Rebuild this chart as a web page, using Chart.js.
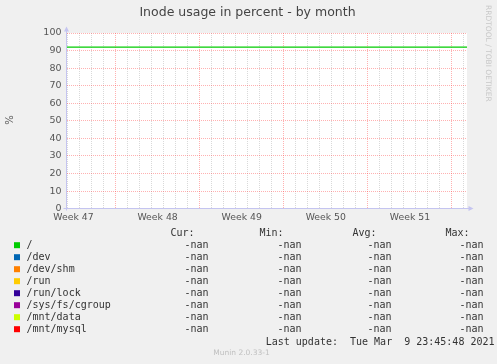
<!DOCTYPE html>
<html>
<head>
<meta charset="utf-8">
<script src="https://cdn.jsdelivr.net/npm/chart.js@4/dist/chart.umd.min.js"></script>
<style>
html, body { margin: 0; padding: 0; background: #f0f0f0; }
#wrap { width: 497px; height: 364px; }
</style>
</head>
<body>
<div id="wrap"><canvas id="inodeChart" width="497" height="364"></canvas></div>
<script>
const seriesNames = ['/', '/dev', '/dev/shm', '/run', '/run/lock', '/sys/fs/cgroup', '/mnt/data', '/mnt/mysql'];
const seriesColors = ['#00cc00', '#0066b3', '#ff8000', '#ffcc00', '#330099', '#990099', '#ccff00', '#ff0000'];

// x values are days counted from the start of week 48
const sampleDays = [-4.08, 0, 7, 14, 21, 28, 29.25];
const rootValues = [92, 92, 92, 92, 92, 92, 92];

const weekLabels = ['Week 47', 'Week 48', 'Week 49', 'Week 50', 'Week 51'];
const weekStarts = [-7, 0, 7, 14, 21];

const curValues = ['-nan', '-nan', '-nan', '-nan', '-nan', '-nan', '-nan', '-nan'];
const minValues = ['-nan', '-nan', '-nan', '-nan', '-nan', '-nan', '-nan', '-nan'];
const avgValues = ['-nan', '-nan', '-nan', '-nan', '-nan', '-nan', '-nan', '-nan'];
const maxValues = ['-nan', '-nan', '-nan', '-nan', '-nan', '-nan', '-nan', '-nan'];

const titleText = 'Inode usage in percent - by month';
const lastUpdate = 'Last update:  Tue Mar  9 23:45:48 2021';

const MAJOR = 'rgba(255, 60, 60, 0.4)';
const MINOR = 'rgba(170, 170, 170, 0.45)';
const mono = '10px "DejaVu Sans Mono"';

const datasets = seriesNames.map((name, i) => ({
    label: name,
    data: i === 0 ? sampleDays.map((d, j) => ({ x: d, y: rootValues[j] })) : [],
    borderColor: seriesColors[i],
    backgroundColor: seriesColors[i],
    borderWidth: 1.2,
    pointRadius: 0,
    tension: 0,
    fill: false
}));

const muninDecor = {
    id: 'muninDecor',
    beforeDraw(chart) {
        const { ctx, chartArea: a } = chart;
        ctx.save();
        ctx.fillStyle = '#f0f0f0';
        ctx.fillRect(0, 0, chart.width, chart.height);
        ctx.fillStyle = '#ffffff';
        ctx.fillRect(a.left, a.top, a.right - a.left, a.bottom - a.top);
        ctx.restore();
    },
    afterDraw(chart) {
        const { ctx, chartArea: a } = chart;
        ctx.save();

        // axes with arrows
        const ax = Math.round(a.left - 0.5) + 0.5;
        const ay = Math.round(a.bottom - 0.5) + 0.5;
        ctx.strokeStyle = '#c4c4f0';
        ctx.fillStyle = '#c4c4f0';
        ctx.lineWidth = 1;
        ctx.beginPath();
        ctx.moveTo(ax, ay + 2);
        ctx.lineTo(ax, a.top - 2);
        ctx.moveTo(ax - 3, ay);
        ctx.lineTo(a.right + 2, ay);
        ctx.stroke();
        ctx.beginPath();
        ctx.moveTo(ax - 2.5, a.top - 1.5);
        ctx.lineTo(ax + 2.5, a.top - 1.5);
        ctx.lineTo(ax, a.top - 6.5);
        ctx.closePath();
        ctx.fill();
        ctx.beginPath();
        ctx.moveTo(a.right + 1.5, ay - 2.5);
        ctx.lineTo(a.right + 1.5, ay + 2.5);
        ctx.lineTo(a.right + 6.5, ay);
        ctx.closePath();
        ctx.fill();

        // title
        ctx.fillStyle = '#444';
        ctx.font = '12.5px "DejaVu Sans"';
        ctx.textAlign = 'center';
        ctx.textBaseline = 'middle';
        ctx.fillText(titleText, 247.5, 13);

        // y axis unit
        ctx.save();
        ctx.translate(10, 120);
        ctx.rotate(-Math.PI / 2);
        ctx.font = '10px "DejaVu Sans"';
        ctx.fillStyle = '#555';
        ctx.fillText('%', 0, 0);
        ctx.restore();

        // rrdtool credit
        ctx.save();
        ctx.translate(488, 5);
        ctx.rotate(Math.PI / 2);
        ctx.font = '7.5px "DejaVu Sans"';
        ctx.fillStyle = '#c8c8c8';
        ctx.textAlign = 'left';
        ctx.fillText('RRDTOOL / TOBI OETIKER', 0, 0);
        ctx.restore();

        // legend table
        ctx.font = mono;
        ctx.fillStyle = '#333';
        ctx.textAlign = 'right';
        ctx.fillText('Cur:', 194.5, 233.5);
        ctx.fillText('Min:', 283.5, 233.5);
        ctx.fillText('Avg:', 376.5, 233.5);
        ctx.fillText('Max:', 469.5, 233.5);
        seriesNames.forEach((name, i) => {
            const y = 245.7 + i * 12;
            ctx.fillStyle = seriesColors[i];
            ctx.fillRect(14, y - 3.5, 6, 6);
            ctx.fillStyle = '#333';
            ctx.textAlign = 'left';
            ctx.fillText(name, 26.5, y);
            ctx.textAlign = 'right';
            ctx.fillText(curValues[i], 208.5, y);
            ctx.fillText(minValues[i], 301.5, y);
            ctx.fillText(avgValues[i], 391.5, y);
            ctx.fillText(maxValues[i], 483.5, y);
        });
        ctx.fillText(lastUpdate, 494.5, 342);

        ctx.font = '7.5px "DejaVu Sans"';
        ctx.fillStyle = '#c0c0c0';
        ctx.textAlign = 'center';
        ctx.fillText('Munin 2.0.33-1', 241.5, 353.3);
        ctx.restore();
    }
};

const ctx = document.getElementById('inodeChart').getContext('2d');
const inodeChart = new Chart(ctx, {
    type: 'line',
    data: { datasets: datasets },
    options: {
        responsive: false,
        animation: false,
        events: [],
        layout: { padding: { top: 33, right: 30, left: 0, bottom: 0 } },
        plugins: { legend: { display: false }, tooltip: { enabled: false } },
        scales: {
            x: {
                type: 'linear',
                min: sampleDays[0],
                max: sampleDays[sampleDays.length - 1],
                afterFit: (s) => { s.height = 155.4; },
                afterBuildTicks: (s) => {
                    const t = [];
                    for (let d = Math.ceil(s.min); d <= Math.floor(s.max); d++) t.push({ value: d });
                    weekStarts.forEach((w) => t.push({ value: w + 3.5 }));
                    t.sort((p, q) => p.value - q.value);
                    s.ticks = t;
                },
                grid: {
                    drawTicks: false,
                    lineWidth: 1,
                    color: (c) => {
                        const v = c.tick ? c.tick.value : 0;
                        if (!Number.isInteger(v)) return 'rgba(0,0,0,0)';
                        return (((v % 7) + 7) % 7 === 0) ? MAJOR : MINOR;
                    }
                },
                border: { display: false, dash: [1, 1] },
                ticks: {
                    autoSkip: false,
                    maxRotation: 0,
                    padding: 3,
                    color: '#555',
                    font: { family: 'DejaVu Sans', size: 9.3 },
                    callback: (v) => {
                        const i = weekStarts.findIndex((w) => w + 3.5 === v);
                        return i >= 0 ? weekLabels[i] : '';
                    }
                }
            },
            y: {
                min: 0,
                max: 100,
                afterFit: (s) => { s.width = 66.5; },
                grid: {
                    drawTicks: false,
                    lineWidth: 1,
                    color: (c) => {
                        const v = c.tick ? c.tick.value : 0;
                        return v % 10 === 0 ? MAJOR : MINOR;
                    }
                },
                border: { display: false, dash: [1, 1] },
                ticks: {
                    stepSize: 5,
                    padding: 5,
                    color: '#555',
                    font: { family: 'DejaVu Sans', size: 9.5 },
                    callback: (v) => (v % 10 === 0 ? v : '')
                }
            }
        }
    },
    plugins: [muninDecor]
});
</script>
</body>
</html>
